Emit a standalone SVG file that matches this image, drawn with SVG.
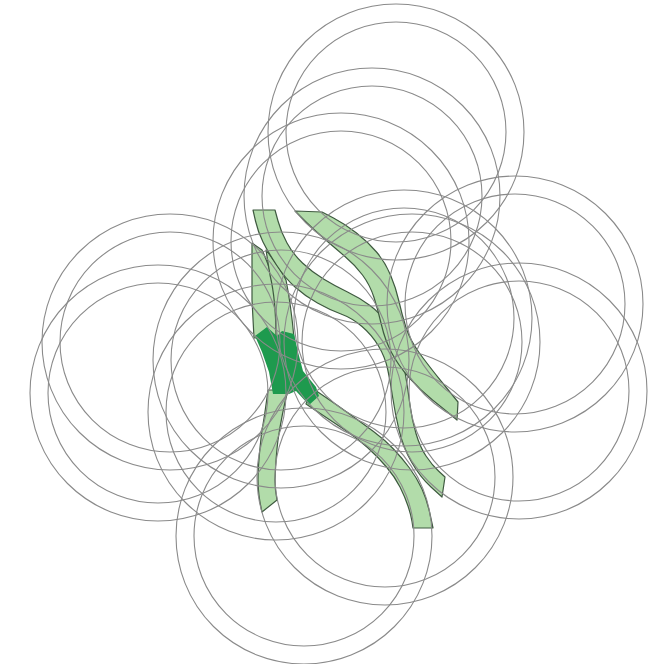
<svg xmlns="http://www.w3.org/2000/svg" width="662" height="664" viewBox="0 0 662 664">
<style>
.band{fill:#b2dcaa;stroke:#3f5a40;stroke-width:1.2;stroke-linejoin:round}
.dark{fill:#1e9a4e;stroke:none}
.ring{fill:none;stroke:#8a8a8a;stroke-width:1.1}
</style>
<rect width="662" height="664" fill="#ffffff"/>
<g id="bands">
<path class="band" d="M252,243 L262,250 Q272,270 276,300 Q278,320 278,338 L254,338 L252,300 Z"/>
<path class="band" d="M266,250 Q280,268 286,280 Q291,305 294,338 L276,338 Q276,300 270,275 Z"/>
<path class="band" d="M268,390 Q264,420 262,430 Q258,463 258,480 Q258,495 262,512 L277,500 Q275,490 275,480 Q276,455 278,440 Q282,413 288,390 Z"/>
<path class="band" d="M312,388 L324.5,396.5 Q337,405 349.5,414 Q362,423 373.5,431.5 Q385,440 393.5,449 Q402,458 409.5,468 Q417,478 422,489 Q427,500 430,514 L433,528 L413,528 L412,521.5 Q411,515 408,506 Q405,497 400,487 Q395,477 386.5,467 Q378,457 367.5,447.5 Q357,438 343.5,429 Q330,420 318,412 L306,404 Z"/>
<path class="band" d="M253,210 L255.5,221 Q258,232 263,242 Q268,252 276.5,265 Q285,278 295,287 Q305,296 317.5,303 Q330,310 341,314 Q352,318 362,326.5 Q372,335 378.5,346 Q385,357 387.5,368.5 Q390,380 392.5,396.5 Q395,413 399,430 Q403,447 411.5,462 Q420,477 431,487 L442,497 L445,477 L438.5,471 Q432,465 426,456 Q420,447 416,433.5 Q412,420 410,405 Q408,390 405.5,375 Q403,360 399,347.5 Q395,335 387.5,324 Q380,313 370,305.5 Q360,298 347.5,292 Q335,286 323.5,279 Q312,272 302.5,263 Q293,254 287,243 Q281,232 278,221 L275,210 Z"/>
<path class="band" d="M295,211 L303.5,219.5 Q312,228 323.5,238 Q335,248 345,256.5 Q355,265 362.5,275 Q370,285 374,297.5 Q378,310 381.5,325 Q385,340 391.5,352.5 Q398,365 409,377.5 Q420,390 432.5,400 Q445,410 451,415 L457,420 L458,402 L443,383.5 Q428,365 419,352.5 Q410,340 406,327.5 Q402,315 399,301.5 Q396,288 390.5,275 Q385,262 376.5,252 Q368,242 356.5,233 Q345,224 333.5,218 L322,212 Z"/>
<path class="dark" d="M255,336 L267,327 L277,336 L282,331 L294,334 L298,352 L303,371 L316,387 L319,396 L309,405 L296,391 L289,394 L273,394 L269,372 L262,352 Z"/>
</g>
<g id="rings">
<circle class="ring" cx="396" cy="132" r="128"/><circle class="ring" cx="396" cy="132" r="110"/>
<circle class="ring" cx="372" cy="196" r="128"/><circle class="ring" cx="372" cy="196" r="110"/>
<circle class="ring" cx="341" cy="241" r="128"/><circle class="ring" cx="341" cy="241" r="110"/>
<circle class="ring" cx="170" cy="342" r="128"/><circle class="ring" cx="170" cy="342" r="110"/>
<circle class="ring" cx="158" cy="393" r="128"/><circle class="ring" cx="158" cy="393" r="110"/>
<circle class="ring" cx="515" cy="304" r="128"/><circle class="ring" cx="515" cy="304" r="110"/>
<circle class="ring" cx="519" cy="391" r="128"/><circle class="ring" cx="519" cy="391" r="110"/>
<circle class="ring" cx="304" cy="536" r="128"/><circle class="ring" cx="304" cy="536" r="110"/>
<circle class="ring" cx="385" cy="477" r="128"/><circle class="ring" cx="385" cy="477" r="110"/>
<circle class="ring" cx="281" cy="360" r="128"/><circle class="ring" cx="281" cy="360" r="110"/>
<circle class="ring" cx="276" cy="412" r="128"/><circle class="ring" cx="276" cy="412" r="110"/>
<circle class="ring" cx="404" cy="318" r="128"/><circle class="ring" cx="404" cy="318" r="110"/>
<circle class="ring" cx="412" cy="342" r="128"/><circle class="ring" cx="412" cy="342" r="110"/>
</g>
</svg>
